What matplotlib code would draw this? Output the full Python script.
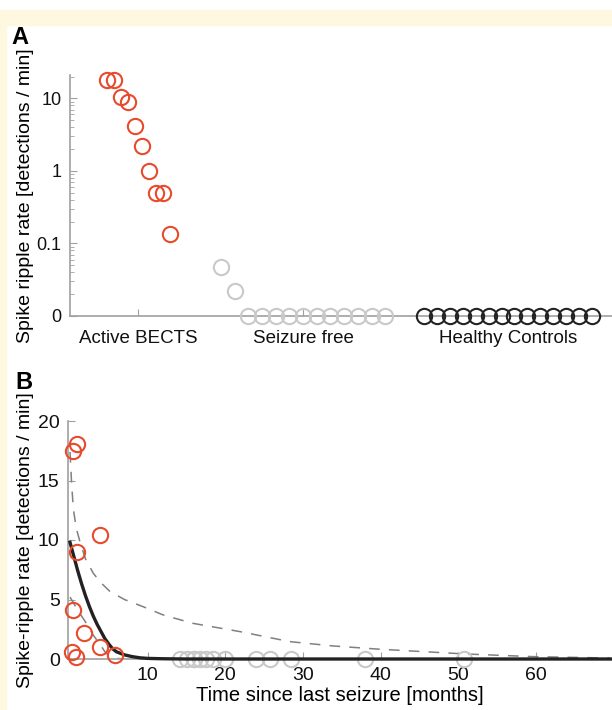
import matplotlib
matplotlib.use('Agg')
import matplotlib.pyplot as plt
import numpy as np
from matplotlib.patches import Rectangle
from matplotlib.ticker import LogLocator, NullFormatter

plt.rcParams['font.family'] = ['Liberation Sans', 'DejaVu Sans']

# ---- data ----
# panel A: rates per subject (detections / min), 0 means no detections
active_rates = [18.0, 17.8, 10.3, 9.0, 4.2, 2.2, 1.0, 0.49, 0.49, 0.135]
free_rates = [0.047, 0.022, 0, 0, 0, 0, 0, 0, 0, 0, 0, 0, 0]
control_rates = [0] * 14
groups = ['Active BECTS', 'Seizure free', 'Healthy Controls']

# panel B: time since last seizure (months) vs rate
active_months = [0.86, 0.35, 3.8, 0.86, 0.35, 1.8, 3.8, 5.8, 0.2, 0.77]
active_rates_b = [18.06, 17.5, 10.4, 8.97, 4.13, 2.2, 1.04, 0.34, 0.62, 0.14]
free_months = [14.2, 15.1, 16.0, 16.7, 17.5, 18.4, 19.9, 23.9, 25.7, 28.4, 38.0, 50.8, 16.0]
free_rates_b = [0] * 13

# fitted curve and confidence bounds
fit_t = [0, 0.5, 1, 1.5, 2, 2.5, 3, 3.5, 4, 4.5, 5, 5.5, 6, 7, 8, 9, 10, 12, 15, 70]
fit_y = [9.8, 8.6, 7.4, 6.3, 5.3, 4.4, 3.6, 2.9, 2.3, 1.7, 1.25, 0.85, 0.6, 0.35,
         0.2, 0.1, 0.05, 0.02, 0.0, 0.0]
upper_t = [0, 0.2, 0.43, 0.8, 1.3, 2, 3, 4, 5.1, 7, 9.4, 12, 15.8, 21.9, 28.3, 33.8,
           39.9, 51, 59.6, 69.5]
upper_y = [17.4, 14.8, 12.6, 11.0, 9.8, 8.4, 7.2, 6.4, 5.7, 5.0, 4.4, 3.7, 3.0, 2.3,
           1.46, 1.1, 0.82, 0.42, 0.2, 0.08]
lower_t = [0, 1, 2, 3, 4, 4.5, 5, 6, 7]
lower_y = [5.2, 4.1, 3.1, 2.0, 1.1, 0.6, 0.3, 0.05, 0.0]

# ---- style ----
red = '#e84a2c'
lgray = '#c9c9c9'
dark = '#222222'
spine_c = '#a0a0a0'
ms = 11
mew = 1.5

fig = plt.figure(figsize=(6.12, 7.10), dpi=100)
fig.patches.append(Rectangle((0, 1 - 25 / 710), 1, 15 / 710, transform=fig.transFigure,
                             color='#fff8e1', zorder=0))
fig.patches.append(Rectangle((0, 0), 6 / 612, 1 - 25 / 710, transform=fig.transFigure,
                             color='#fff8e1', zorder=0))


def style_axes(ax):
    for s in ['top', 'right']:
        ax.spines[s].set_visible(False)
    for s in ['left', 'bottom']:
        ax.spines[s].set_color(spine_c)
        ax.spines[s].set_linewidth(1.2)
    ax.tick_params(direction='in', color=spine_c, length=5, labelcolor='#111111')
    ax.tick_params(which='minor', direction='in', color=spine_c, length=3)


# ---- panel A ----
axA = fig.add_axes([70 / 612, 1 - 316 / 710, 1 - 70 / 612, (316 - 75) / 710])
style_axes(axA)
zero_pos = 0.01
centers = [68, 233, 438]
steps = [7.0, 13.7, 12.9]
colors = [red, lgray, dark]
for vals, c, st, col in zip([active_rates, free_rates, control_rates], centers, steps, colors):
    n = len(vals)
    xs = c + (np.arange(n) - (n - 1) / 2) * st
    ys = [v if v > 0 else zero_pos for v in vals]
    axA.plot(xs, ys, 'o', mfc='none', mec=col, ms=ms, mew=mew, clip_on=False, zorder=3)
axA.set_yscale('log')
axA.set_ylim(zero_pos, 21)
axA.set_xlim(0, 542)
axA.set_yticks([0.01, 0.1, 1, 10])
axA.set_yticklabels(['0', '0.1', '1', '10'])
axA.yaxis.set_minor_locator(LogLocator(subs=np.arange(2, 10)))
axA.yaxis.set_minor_formatter(NullFormatter())
axA.set_xticks(centers)
axA.set_xticklabels(groups)
axA.tick_params(axis='y', labelsize=13, pad=6)
axA.tick_params(axis='x', labelsize=13.5, pad=10)
axA.set_ylabel('Spike ripple rate [detections / min]', fontsize=14, labelpad=2)
fig.text(20 / 612, 1 - 38 / 710, 'A', fontsize=17, fontweight='bold', ha='center', va='center')

# ---- panel B ----
axB = fig.add_axes([68 / 612, 1 - 659 / 710, 1 - 68 / 612, (659 - 421) / 710])
style_axes(axB)
axB.plot(upper_t, upper_y, color='#808080', lw=1.1, dashes=(7, 6), zorder=2)
axB.plot(lower_t, lower_y, color='#808080', lw=1.1, dashes=(7, 6), zorder=2)
axB.plot(free_months, free_rates_b, 'o', mfc='none', mec=lgray, ms=ms, mew=mew,
         clip_on=False, zorder=2)
axB.plot(fit_t, fit_y, color=dark, lw=2.4, zorder=3, clip_on=False)
axB.plot(active_months, active_rates_b, 'o', mfc='none', mec=red, ms=ms, mew=mew,
         clip_on=False, zorder=4)
axB.set_xlim(-0.26, 69.8)
axB.set_ylim(0, 20)
axB.set_xticks([10, 20, 30, 40, 50, 60])
axB.set_yticks([0, 5, 10, 15, 20])
axB.tick_params(labelsize=14, pad=6)
axB.set_xlabel('Time since last seizure [months]', fontsize=14.5, labelpad=1)
axB.set_ylabel('Spike-ripple rate [detections / min]', fontsize=14, labelpad=3)
fig.text(24 / 612, 1 - 383 / 710, 'B', fontsize=17, fontweight='bold', ha='center', va='center')

fig.savefig('out.png', dpi=100)
